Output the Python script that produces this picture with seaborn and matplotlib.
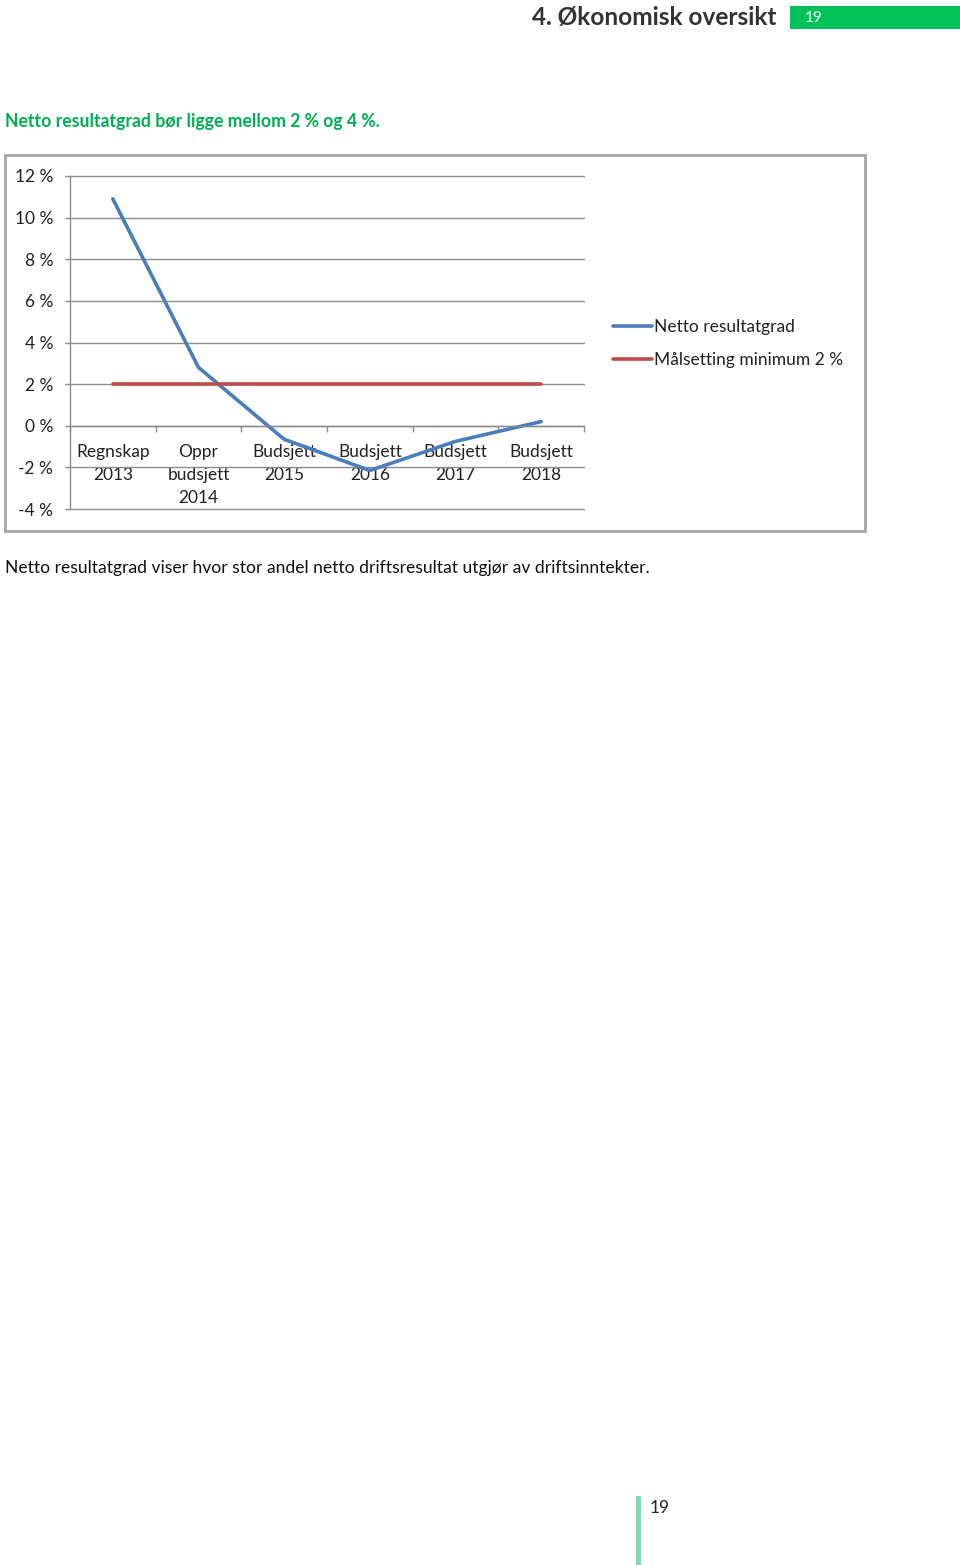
import matplotlib
matplotlib.use("Agg")
import matplotlib.pyplot as plt
import seaborn as sns
import pandas as pd
from matplotlib.patches import Rectangle
from matplotlib.lines import Line2D

# ---- data ----
categories = ["Regnskap\n2013", "Oppr\nbudsjett\n2014", "Budsjett\n2015",
              "Budsjett\n2016", "Budsjett\n2017", "Budsjett\n2018"]
netto = [10.9, 2.8, -0.65, -2.15, -0.75, 0.2]
maal = [2, 2, 2, 2, 2, 2]
yticks = [-4, -2, 0, 2, 4, 6, 8, 10, 12]
series_names = ["Netto resultatgrad", "Målsetting minimum 2 %"]
colors = ["#4A7EBB", "#BE4B48"]

sns.set_theme(style="white")
plt.rcParams['font.family'] = ['Lato', 'DejaVu Sans']

W, H = 960, 1565
fig = plt.figure(figsize=(9.6, 15.65), dpi=100)


def fx(x):
    return x / W


def fy(y):
    return 1 - y / H


ax = fig.add_axes([fx(70), fy(509), fx(584) - fx(70), fy(176) - fy(509)])
df = pd.DataFrame({
    "pos": list(range(len(categories))) * 2,
    "value": netto + maal,
    "serie": [series_names[0]] * len(netto) + [series_names[1]] * len(maal),
})
sns.lineplot(data=df, x="pos", y="value", hue="serie", hue_order=series_names,
             palette=colors, linewidth=2.6, ax=ax, legend=False)

grid_c = "#8c8c8c"
ax.set_xlim(-0.5, len(categories) - 0.5)
ax.set_ylim(-4, 12)
ax.set_yticks(yticks)
ax.set_yticklabels([f"{v} %" for v in yticks])
ax.set_xticks(range(len(categories)))
ax.set_xticklabels(categories)
ax.set_xticks([i - 0.5 for i in range(len(categories) + 1)], minor=True)
ax.set_xlabel("")
ax.set_ylabel("")
ax.yaxis.grid(True, color=grid_c, lw=1)
ax.xaxis.grid(False)
for gl in ax.get_ygridlines():
    gl.set_clip_on(False)
for s in ["top", "right"]:
    ax.spines[s].set_visible(False)
ax.spines["left"].set_color(grid_c)
ax.spines["left"].set_linewidth(1)
ax.spines["bottom"].set_position(("data", 0))
ax.spines["bottom"].set_color(grid_c)
ax.spines["bottom"].set_linewidth(1)
ax.tick_params(axis="y", which="major", left=True, length=3.6, width=1, color=grid_c,
               labelsize=12.5, labelcolor="#222222", pad=8.6)
ax.tick_params(axis="x", which="major", bottom=True, length=0, labelsize=12.5,
               labelcolor="#222222", pad=13.5)
ax.tick_params(axis="x", which="minor", bottom=True, length=4, width=1, color=grid_c)
for lbl in ax.get_xticklabels():
    lbl.set_linespacing(1.52)
for lbl in ax.get_yticklabels():
    lbl.set_horizontalalignment("right")

handles = [Line2D([], [], color=c, lw=2.6) for c in colors]
fig.legend(handles=handles, labels=series_names, loc="center left",
           bbox_to_anchor=(fx(613), fy(343.5)), frameon=False, fontsize=12.5,
           handlelength=2.25, handletextpad=0.1, labelspacing=0.98,
           borderpad=0, borderaxespad=0, labelcolor="#222222")

# chart border
fig.add_artist(Rectangle((fx(5), fy(531)), fx(865) - fx(5), fy(155) - fy(531),
                         transform=fig.transFigure, fill=False, ec="#a6a6a6", lw=2))

# header
fig.text(fx(776), fy(18), "4. Økonomisk oversikt", ha="right", va="center",
         fontsize=17.6, weight="bold", color="#333333")
fig.add_artist(Rectangle((fx(790), fy(29)), fx(960) - fx(790), fy(6) - fy(29),
                         transform=fig.transFigure, color="#00c25a", lw=0))
fig.text(fx(805), fy(18), "19", ha="left", va="center", fontsize=11, color="white")

# subtitle and caption
fig.text(fx(5), fy(121), "Netto resultatgrad bør ligge mellom 2 % og 4 %.",
         ha="left", va="center", fontsize=12.7, weight="bold", color="#00b050")
fig.text(fx(5), fy(568),
         "Netto resultatgrad viser hvor stor andel netto driftsresultat utgjør av driftsinntekter.",
         ha="left", va="center", fontsize=12.6, color="#111111")

# footer
fig.add_artist(Rectangle((fx(636), fy(1565)), fx(641) - fx(636), fy(1496) - fy(1565),
                         transform=fig.transFigure, color="#80dcb0", lw=0))
fig.text(fx(650), fy(1508), "19", ha="left", va="center", fontsize=12.5, color="#222222")

fig.savefig("out.png", dpi=100)
